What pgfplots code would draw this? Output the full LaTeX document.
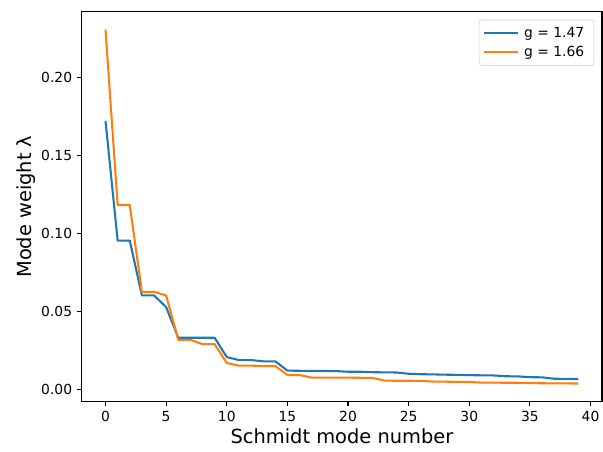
\documentclass[border=0pt]{standalone}
\usepackage{pgfplots}
\pgfplotsset{compat=1.18}
\usepackage{fontspec}
\setmainfont{DejaVu Sans}
\definecolor{c0}{HTML}{1F77B4}
\definecolor{c1}{HTML}{FF7F0E}
\pgfplotsset{longleg/.style={legend image code/.code={\draw[##1] (0pt,0pt) -- (24pt,0pt);}}}
\begin{document}
\begin{tikzpicture}
\useasboundingbox (-59.04pt,-36pt) rectangle (375.8pt,289.4pt);
\begin{axis}[
  scale only axis, width=375.1pt, height=280.8pt,
  xmin=-1.95, xmax=40.95, ymin=-0.0077, ymax=0.2424,
  xtick={0,5,...,40}, ytick={0,0.05,...,0.2},
  /pgf/number format/assume math mode=true,
  yticklabel style={/pgf/number format/.cd, fixed, fixed zerofill, precision=2},
  xticklabel style={/pgf/number format/.cd, fixed},
  scaled y ticks=false,
  tick label style={font=\fontsize{10}{12}\selectfont},
  tick align=outside, major tick length=3.5pt,
  tick style={black, line width=0.8pt},
  axis line style={line width=0.8pt},
  xtick pos=bottom, ytick pos=left,
  xlabel={Schmidt mode number}, ylabel={Mode weight λ},
  label style={font=\fontsize{14}{16}\selectfont},
  xlabel style={yshift=2pt},
  ylabel style={yshift=-3pt},
  legend style={at={(0.985,0.98)}, anchor=north east, font=\fontsize{10}{12}\selectfont, draw=black!20, rounded corners=2pt, inner sep=3pt, row sep=1pt,
    nodes={inner xsep=4pt}},
  legend cell align=left,
  every axis plot/.append style={line width=1.5pt, line join=round},
]
\addplot[c0, longleg] coordinates {
(0,0.1724)(1,0.0955)(2,0.0955)(3,0.0603)(4,0.0603)(5,0.0528)(6,0.0331)(7,0.0331)(8,0.0331)(9,0.0331)
(10,0.0207)(11,0.0188)(12,0.0188)(13,0.0180)(14,0.0180)(15,0.0120)(16,0.0119)(17,0.0119)(18,0.0118)(19,0.0117)
(20,0.0113)(21,0.0113)(22,0.0110)(23,0.0109)(24,0.0108)(25,0.0100)(26,0.0097)(27,0.0096)(28,0.0094)(29,0.0093)
(30,0.0091)(31,0.0090)(32,0.0089)(33,0.0084)(34,0.0083)(35,0.0078)(36,0.0077)(37,0.0068)(38,0.0067)(39,0.0066)
};
\addlegendentry{g = 1.47}
\addplot[c1, longleg] coordinates {
(0,0.2310)(1,0.1184)(2,0.1184)(3,0.0626)(4,0.0626)(5,0.0603)(6,0.0318)(7,0.0318)(8,0.0290)(9,0.0290)
(10,0.0169)(11,0.0152)(12,0.0152)(13,0.0150)(14,0.0150)(15,0.0092)(16,0.0092)(17,0.0075)(18,0.0075)(19,0.0075)
(20,0.0075)(21,0.0074)(22,0.0074)(23,0.0056)(24,0.0055)(25,0.0055)(26,0.0054)(27,0.0050)(28,0.0049)(29,0.0048)
(30,0.0047)(31,0.0043)(32,0.0043)(33,0.0042)(34,0.0042)(35,0.0040)(36,0.0039)(37,0.0038)(38,0.0038)(39,0.0037)
};
\addlegendentry{g = 1.66}
\end{axis}
\end{tikzpicture}
\end{document}
